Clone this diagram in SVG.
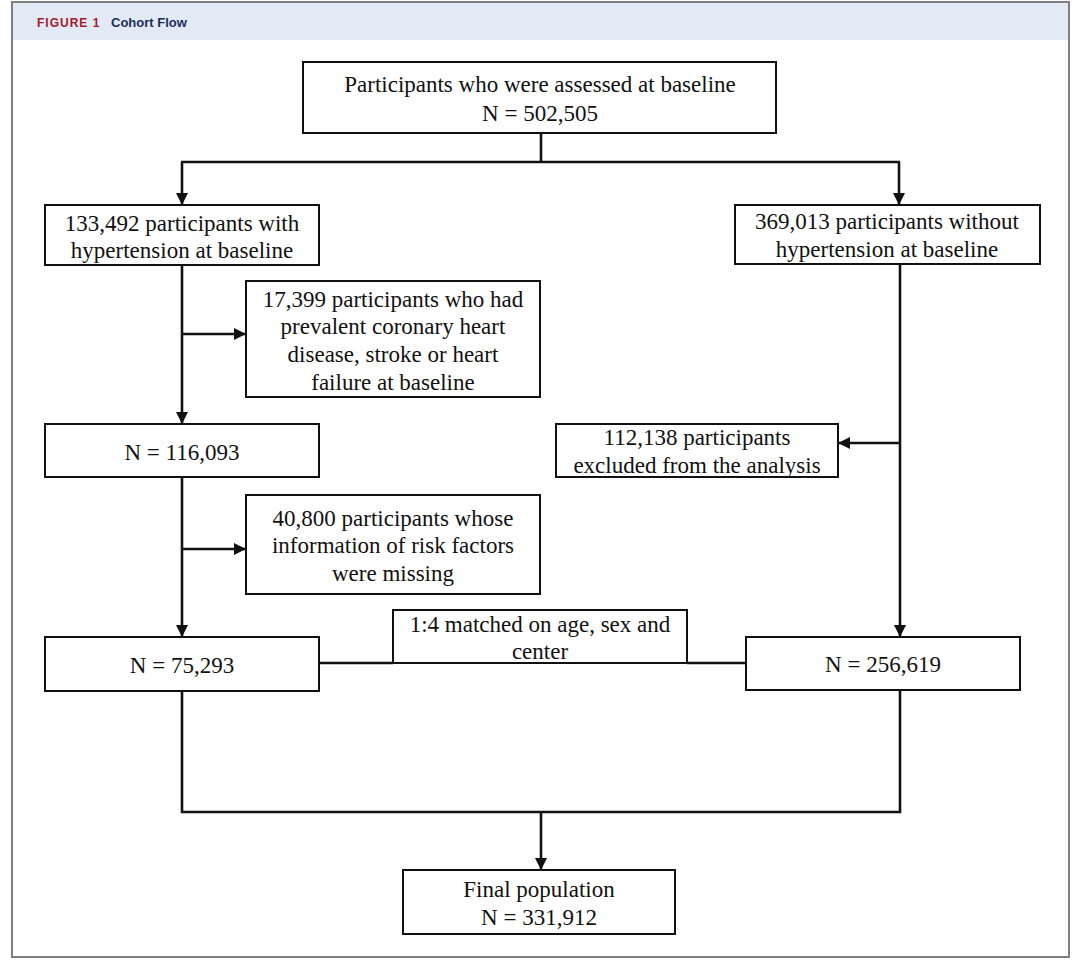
<svg xmlns="http://www.w3.org/2000/svg" width="1080" height="964" viewBox="0 0 1080 964">
  <style>
    .box { fill: #ffffff; stroke: #111111; stroke-width: 2; }
    .t { font-family: "Liberation Serif", "Times New Roman", serif; font-size: 23px; fill: #111111; text-anchor: middle; }
    .c { fill: none; stroke: #111111; stroke-width: 2.6; }
    .hdr1 { font-family: "Liberation Sans", Arial, sans-serif; font-size: 12px; font-weight: bold; letter-spacing: 1px; fill: #a6192e; }
    .hdr2 { font-family: "Liberation Sans", Arial, sans-serif; font-size: 13px; font-weight: bold; fill: #1b2f5c; }
  </style>
  <defs>
    <marker id="arr" markerUnits="userSpaceOnUse" markerWidth="12" markerHeight="12" viewBox="0 0 12 12" refX="12" refY="6" orient="auto">
      <path d="M0,0 L12,6 L0,12 z" fill="#111111"/>
    </marker>
  </defs>
  <rect x="0" y="0" width="1080" height="964" fill="#ffffff"/>
  <g id="frame">
    <rect x="12" y="2" width="1057" height="955" fill="#ffffff" stroke="#808080" stroke-width="2"/>
    <rect x="13" y="3" width="1055" height="37" fill="#e1eaf5"/>
    <text class="hdr1" x="37" y="27">FIGURE 1</text>
    <text class="hdr2" x="111" y="27">Cohort Flow</text>
  </g>
  <g id="connectors">
    <polyline class="c" points="541,133 541,162"/>
    <polyline class="c" points="181,162 900,162"/>
    <line class="c" x1="182" y1="162" x2="182" y2="205" marker-end="url(#arr)"/>
    <line class="c" x1="899" y1="162" x2="899" y2="205" marker-end="url(#arr)"/>
    <line class="c" x1="182" y1="265" x2="182" y2="424" marker-end="url(#arr)"/>
    <line class="c" x1="182" y1="334" x2="246" y2="334" marker-end="url(#arr)"/>
    <line class="c" x1="182" y1="477" x2="182" y2="637" marker-end="url(#arr)"/>
    <line class="c" x1="182" y1="549" x2="246" y2="549" marker-end="url(#arr)"/>
    <line class="c" x1="900" y1="264" x2="900" y2="637" marker-end="url(#arr)"/>
    <line class="c" x1="900" y1="443" x2="838" y2="443" marker-end="url(#arr)"/>
    <line class="c" x1="319" y1="663" x2="393" y2="663"/>
    <line class="c" x1="687" y1="663" x2="746" y2="663"/>
    <polyline class="c" points="182,691 182,812 900,812 900,690"/>
    <line class="c" x1="541" y1="812" x2="541" y2="870" marker-end="url(#arr)"/>
  </g>
  <g id="n-baseline">
    <rect class="box" x="303" y="62" width="473" height="71"/>
    <text class="t" x="540" y="92">Participants who were assessed at baseline</text>
    <text class="t" x="540" y="121">N = 502,505</text>
  </g>
  <g id="n-hyper">
    <rect class="box" x="45" y="205" width="274" height="60"/>
    <text class="t" x="182" y="231">133,492 participants with</text>
    <text class="t" x="182" y="258">hypertension at baseline</text>
  </g>
  <g id="n-nohyper">
    <rect class="box" x="735" y="205" width="305" height="59"/>
    <text class="t" x="887" y="229">369,013 participants without</text>
    <text class="t" x="887" y="257">hypertension at baseline</text>
  </g>
  <g id="n-excl1">
    <rect class="box" x="246" y="281" width="294" height="116"/>
    <text class="t" x="393" y="307">17,399 participants who had</text>
    <text class="t" x="393" y="334">prevalent coronary heart</text>
    <text class="t" x="393" y="362">disease, stroke or heart</text>
    <text class="t" x="393" y="390">failure at baseline</text>
  </g>
  <g id="n-116093">
    <rect class="box" x="45" y="424" width="274" height="53"/>
    <text class="t" x="182" y="460">N = 116,093</text>
  </g>
  <g id="n-excl-right">
    <rect class="box" x="556" y="424" width="282" height="53"/>
    <text class="t" x="697" y="445">112,138 participants</text>
    <text class="t" x="697" y="473">excluded from the analysis</text>
  </g>
  <g id="n-excl2">
    <rect class="box" x="246" y="495" width="294" height="99"/>
    <text class="t" x="393" y="526">40,800 participants whose</text>
    <text class="t" x="393" y="553">information of risk factors</text>
    <text class="t" x="393" y="581">were missing</text>
  </g>
  <g id="n-matched">
    <rect class="box" x="393" y="610" width="294" height="53"/>
    <text class="t" x="540" y="632">1:4 matched on age, sex and</text>
    <text class="t" x="540" y="659">center</text>
  </g>
  <g id="n-75293">
    <rect class="box" x="45" y="637" width="274" height="54"/>
    <text class="t" x="182" y="673">N = 75,293</text>
  </g>
  <g id="n-256619">
    <rect class="box" x="746" y="637" width="274" height="53"/>
    <text class="t" x="883" y="672">N = 256,619</text>
  </g>
  <g id="n-final">
    <rect class="box" x="403" y="870" width="272" height="64"/>
    <text class="t" x="539" y="897">Final population</text>
    <text class="t" x="539" y="925">N = 331,912</text>
  </g>
</svg>
